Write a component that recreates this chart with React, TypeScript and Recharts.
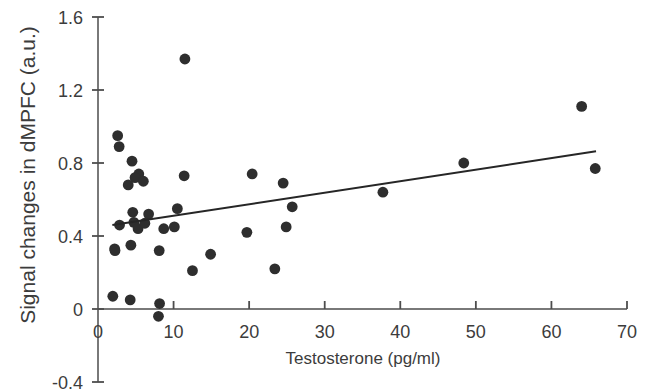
import React from "react";
import {
  ScatterChart,
  Scatter,
  XAxis,
  YAxis,
  ReferenceLine,
} from "recharts";

// Data
const testosterone = [
  11.5, 2.6, 2.8, 4.5, 5.4, 4.9, 4.0, 6.0, 11.4, 20.4, 24.5, 4.6, 6.7, 10.5,
  2.85, 4.75, 5.3, 6.2, 8.7, 10.1, 2.2, 2.25, 4.35, 8.1, 19.7, 14.9, 12.5,
  23.4, 24.9, 25.7, 1.96, 4.26, 8.15, 8.0, 37.7, 48.4, 64.0, 65.8,
];
const signalChange = [
  1.37, 0.95, 0.89, 0.81, 0.74, 0.72, 0.68, 0.7, 0.73, 0.74, 0.69, 0.53, 0.52,
  0.55, 0.46, 0.475, 0.44, 0.47, 0.44, 0.45, 0.33, 0.32, 0.35, 0.32, 0.42,
  0.3, 0.21, 0.22, 0.45, 0.56, 0.07, 0.05, 0.03, -0.04, 0.64, 0.8, 1.11, 0.77,
];
const trendX = [1.9, 65.9];
const trendY = [0.46, 0.864];
const xTicks = [0, 10, 20, 30, 40, 50, 60, 70];
const yTicks = [-0.4, 0, 0.4, 0.8, 1.2, 1.6];
const xTitle = "Testosterone (pg/ml)";
const yTitle = "Signal changes in dMPFC (a.u.)";

const points = testosterone.map((x, i) => ({ x, y: signalChange[i] }));
const trend = trendX.map((x, i) => ({ x, y: trendY[i] }));

const W = 648;
const H = 392;
const X_AXIS_H = 1;
const MARGIN = { top: 17, right: 21, bottom: 10 - X_AXIS_H, left: 0 };
const Y_AXIS_W = 98;
const X_MIN = xTicks[0];
const X_MAX = xTicks[xTicks.length - 1];
const PLOT_W = W - MARGIN.left - MARGIN.right - Y_AXIS_W;
const PLOT_H = H - MARGIN.top - MARGIN.bottom - X_AXIS_H;
const Y_MIN = yTicks[0];
const Y_MAX = yTicks[yTicks.length - 1];
const Y0 = MARGIN.top + (PLOT_H * (Y_MAX - 0)) / (Y_MAX - Y_MIN);
// tick mark lengths, expressed in data units for the reference-line segments
const X_TICK_LEN = (8 * (Y_MAX - Y_MIN)) / PLOT_H;
const Y_TICK_HALF = (6 * (X_MAX - X_MIN)) / PLOT_W;

const AXIS_COLOR = "#4d4d4d";
const TEXT_COLOR = "#3c3c3c";
const FONT = "'Liberation Sans', Arial, sans-serif";

const renderXTick = (props: any) => {
  const { x, payload } = props;
  return (
    <text
      key={`xt-${payload.value}`}
      x={x}
      y={Y0 + 23}
      textAnchor="middle"
      dominantBaseline="central"
      fontSize={18}
      fontFamily={FONT}
      fill={TEXT_COLOR}
    >
      {payload.value}
    </text>
  );
};

const renderYTick = (props: any) => {
  const { y, payload } = props;
  const v = payload.value;
  const label = Math.abs(v) < 1e-9 ? "0" : v.toFixed(1);
  return (
    <text
      key={`yt-${v}`}
      x={MARGIN.left + Y_AXIS_W - 15}
      y={y + 1}
      textAnchor="end"
      dominantBaseline="central"
      fontSize={18}
      fontFamily={FONT}
      fill={TEXT_COLOR}
    >
      {label}
    </text>
  );
};

const Dot = (props: any) => (
  <circle cx={props.cx} cy={props.cy} r={5.4} fill="#2e2e2e" />
);

const NoShape = () => <g />;

export default function App() {
  return (
    <div style={{ position: "absolute", left: 0, top: 0, width: W, height: H, background: "#fff" }}>
      <ScatterChart width={W} height={H} margin={MARGIN}>
        <XAxis
          type="number"
          dataKey="x"
          domain={[X_MIN, X_MAX]}
          ticks={xTicks}
          axisLine={false}
          tickLine={false}
          tick={renderXTick}
          height={X_AXIS_H}
          interval={0}
          allowDataOverflow
          label={{
            content: () => (
              <text
                x={363}
                y={358}
                textAnchor="middle"
                dominantBaseline="central"
                fontSize={17}
                fontFamily={FONT}
                fill={TEXT_COLOR}
              >
                {xTitle}
              </text>
            ),
          }}
        />
        <YAxis
          type="number"
          dataKey="y"
          domain={[Y_MIN, Y_MAX]}
          ticks={yTicks}
          width={Y_AXIS_W}
          axisLine={{ stroke: AXIS_COLOR, strokeWidth: 1.5 }}
          tickLine={false}
          tick={renderYTick}
          interval={0}
          allowDataOverflow
          label={{
            content: () => (
              <text
                x={27}
                y={175}
                transform="rotate(-90, 27, 175)"
                textAnchor="middle"
                dominantBaseline="central"
                fontSize={21}
                fontFamily={FONT}
                fill={TEXT_COLOR}
              >
                {yTitle}
              </text>
            ),
          }}
        />
        <ReferenceLine y={0} stroke={AXIS_COLOR} strokeWidth={1.5} ifOverflow="visible" />
        {xTicks
          .filter((v) => v !== 0)
          .map((v) => (
            <ReferenceLine
              key={`xtl-${v}`}
              segment={[
                { x: v, y: 0 },
                { x: v, y: X_TICK_LEN },
              ]}
              stroke={AXIS_COLOR}
              strokeWidth={1.8}
              ifOverflow="visible"
            />
          ))}
        {yTicks.map((v) => (
          <ReferenceLine
            key={`ytl-${v}`}
            segment={[
              { x: X_MIN - Y_TICK_HALF, y: v },
              { x: X_MIN + Y_TICK_HALF, y: v },
            ]}
            stroke={AXIS_COLOR}
            strokeWidth={1.8}
            ifOverflow="visible"
          />
        ))}
        <Scatter data={points} shape={<Dot />} isAnimationActive={false} />
        <Scatter
          data={trend}
          line={{ stroke: "#262626", strokeWidth: 2 }}
          lineType="joint"
          shape={<NoShape />}
          isAnimationActive={false}
        />
      </ScatterChart>
    </div>
  );
}
